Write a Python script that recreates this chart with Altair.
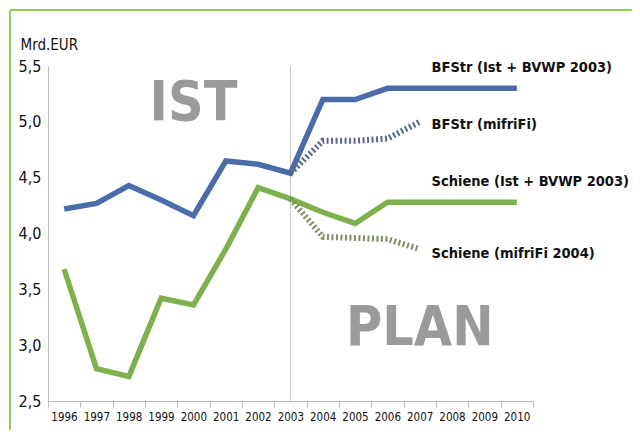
import altair as alt
import pandas as pd

years = list(range(1996, 2011))
bfstr_ist = [4.22, 4.27, 4.43, 4.30, 4.16, 4.65, 4.62, 4.54, 5.20, 5.20, 5.30, 5.30, 5.30, 5.30, 5.30]
schiene_ist = [3.68, 2.79, 2.72, 3.42, 3.36, 3.86, 4.41, 4.31, 4.19, 4.09, 4.28, 4.28, 4.28, 4.28, 4.28]
bfstr_plan_years = [2003, 2004, 2005, 2006, 2007]
bfstr_plan = [4.54, 4.83, 4.83, 4.85, 5.00]
schiene_plan_years = [2003, 2004, 2005, 2006, 2007]
schiene_plan = [4.31, 3.97, 3.96, 3.95, 3.86]

label_texts = ["BFStr (Ist + BVWP 2003)", "BFStr (mifriFi)", "Schiene (Ist + BVWP 2003)", "Schiene (mifriFi 2004)"]
label_y = [5.48, 4.97, 4.46, 3.82]

big_texts = ["IST", "PLAN"]
big_x = [2000, 2007]
big_y = [5.02, 3.0]

FONT = "DejaVu Sans Condensed, DejaVu Sans, sans-serif"

rows = []
for y, v in zip(years, bfstr_ist):
    rows.append({"year": y, "value": v, "series": "bi"})
for y, v in zip(years, schiene_ist):
    rows.append({"year": y, "value": v, "series": "si"})
df = pd.DataFrame(rows)
dfp = pd.DataFrame(
    [{"year": y, "value": v, "series": "bp"} for y, v in zip(bfstr_plan_years, bfstr_plan)]
    + [{"year": y, "value": v, "series": "sp"} for y, v in zip(schiene_plan_years, schiene_plan)]
)
dfl = pd.DataFrame({"year": [2007.3] * 4, "value": label_y, "text": label_texts})
dfb = pd.DataFrame({"year": big_x, "value": big_y, "text": big_texts})

tick_vals = [y - 0.5 for y in years] + [years[-1] + 0.5]
xscale = alt.Scale(domain=[years[0] - 0.5, years[-1] + 0.5], nice=False, zero=False)
xaxis = alt.Axis(title=None, values=tick_vals,
                 labelExpr="datum.value < 2010 ? toString(datum.value + 0.5) : ''",
                 labelOffset=16, labelFont=FONT, labelFontSize=11.5, labelColor="#111",
                 labelAngle=0, tickSize=6, tickColor="#bbb", labelFlush=False,
                 labelOverlap=False, labelSeparation=0, labelBound=False,
                 domainColor="#bbb", labelPadding=4, grid=False)
yscale = alt.Scale(domain=[2.5, 5.5], nice=False, zero=False)
yaxis = alt.Axis(values=[2.5, 3.0, 3.5, 4.0, 4.5, 5.0, 5.5],
                 labelExpr="replace(format(datum.value, '.1f'), '.', ',')",
                 labelFont=FONT, labelFontSize=16, labelColor="#111",
                 tickSize=0, labelPadding=7, domainColor="#bbb",
                 gridColor="#bdbdbd", gridWidth=1.2,
                 title="Mrd.EUR", titleAngle=0, titleX=-28, titleY=-22,
                 titleAlign="left", titleBaseline="middle", titleFont=FONT,
                 titleFontSize=15, titleFontWeight="normal", titleColor="#111")

xs = alt.X("year:Q", scale=xscale, axis=xaxis)
ys = alt.Y("value:Q", scale=yscale, axis=yaxis)

one = pd.DataFrame({"a": [0]})

# white mask that keeps the grid out from behind the upper right labels
mask = alt.Chart(one).mark_rect(color="white").encode(
    x=alt.datum(2006.8, scale=xscale, axis=xaxis), x2=alt.datum(2010.6),
    y=alt.datum(4.38, scale=yscale, axis=yaxis), y2=alt.datum(5.53),
)

lines = alt.Chart(df).mark_line(strokeWidth=5.5, strokeJoin="miter").encode(
    x=xs, y=ys,
    color=alt.Color("series:N", scale=alt.Scale(domain=["bi", "si"], range=["#4a6ca8", "#7fb04e"]), legend=None),
)

vline = alt.Chart(pd.DataFrame({"year": [2003]})).mark_rule(color="#c8c8c8", strokeWidth=1).encode(x=xs)

big = alt.Chart(dfb).mark_text(font=FONT, fontSize=55, fontWeight="bold", color="#9a9a9a",
                                baseline="alphabetic", align="center").encode(
    x=xs, y=ys, text="text:N")

plan = alt.Chart(dfp).mark_line(strokeWidth=6, strokeDash=[2, 2.5]).encode(
    x=xs, y=ys,
    color=alt.Color("series:N", scale=alt.Scale(domain=["bp", "sp"], range=["#56678a", "#7d9060"]), legend=None),
    detail="series:N",
)

labels = alt.Chart(dfl).mark_text(font=FONT, fontSize=14.5, fontWeight="bold", color="#111",
                                   align="left", baseline="middle", dx=2).encode(
    x=xs, y=ys, text="text:N")

frame_left = alt.Chart(one).mark_rule(color="#8fd14f", strokeWidth=2).encode(
    x=alt.value(-38), y=alt.value(-56), y2=alt.value(380))
frame_top = alt.Chart(one).mark_rule(color="#8fd14f", strokeWidth=2).encode(
    x=alt.value(-38), x2=alt.value(600), y=alt.value(-56))

chart = alt.layer(mask, vline, big, lines, plan, labels, frame_left, frame_top).resolve_scale(
    color="independent"
).properties(
    width=485, height=335, autosize="none",
    padding={"left": 40, "top": 58, "right": 99, "bottom": 29},
    background="white",
).configure_view(stroke=None)

chart.save("out.html", embed_options={"renderer": "svg", "actions": False})
